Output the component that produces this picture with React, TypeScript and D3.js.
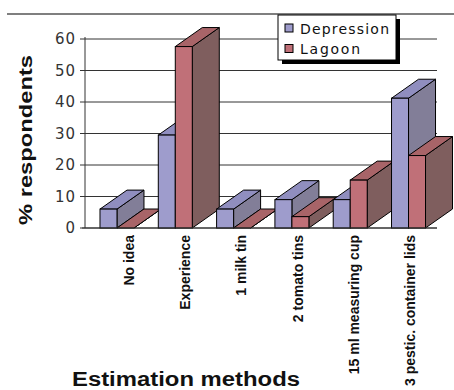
import React from "react";
import * as d3 from "d3";

const categories = ["No idea", "Experience", "1 milk tin", "2 tomato tins", "15 ml measuring cup", "3 pestic. container lids"];
const seriesNames = ["Depression", "Lagoon"];
const depression = [6, 29.5, 6, 9, 9, 41.2];
const lagoon = [0, 57.6, 0, 3.6, 15.2, 23];
const yTicks = [0, 10, 20, 30, 40, 50, 60];

const colors: Record<string, { front: string; top: string; side: string }> = {
  Depression: { front: "#9e9ccc", top: "#908ebf", side: "#827e98" },
  Lagoon: { front: "#c07078", top: "#a86468", side: "#7f5e5e" },
};

const W = 454;
const H = 390;
const DX = 27;
const DY = -19;

export default function App() {
  const y = d3.scaleLinear().domain([0, 60]).range([228, 39]);
  const x = d3
    .scaleBand<string>()
    .domain(categories)
    .range([85, 440.5])
    .paddingInner(0.417)
    .paddingOuter(0.257);
  const xs = d3.scaleBand<string>().domain(seriesNames).range([0, x.bandwidth()]);
  const xl = d3.scalePoint<string>().domain(categories).range([129, 410]);
  const series = [
    { name: "Depression", values: depression },
    { name: "Lagoon", values: lagoon },
  ];

  const bars: React.ReactNode[] = [];
  categories.forEach((c, i) => {
    series.forEach((s) => {
      const x0 = (x(c) ?? 0) + (xs(s.name) ?? 0);
      const x1 = x0 + xs.bandwidth();
      const yt = y(s.values[i]);
      const yb = y(0);
      const col = colors[s.name];
      const top = `${x0},${yt} ${x1},${yt} ${x1 + DX},${yt + DY} ${x0 + DX},${yt + DY}`;
      const side = `${x1},${yt} ${x1 + DX},${yt + DY} ${x1 + DX},${yb + DY} ${x1},${yb}`;
      bars.push(
        <g key={c + s.name}>
          <polygon points={side} fill={col.side} stroke="#000" strokeWidth={1} strokeLinejoin="round" />
          <polygon points={top} fill={col.top} stroke="#000" strokeWidth={1} strokeLinejoin="round" />
          <rect x={x0} y={yt} width={x1 - x0} height={yb - yt} fill={col.front} stroke="#000" strokeWidth={1} />
        </g>
      );
    });
  });

  return (
    <svg width={W} height={H} style={{ position: "absolute", left: 0, top: 0 }}>
      <rect x={0} y={0} width={W} height={H} fill="#fff" />
      <line x1={7} x2={W} y1={14} y2={14} stroke="#555" strokeWidth={1.5} />
      {yTicks.map((t) => (
        <g key={t}>
          <line x1={85} x2={437} y1={y(t)} y2={y(t)} stroke="#333" strokeWidth={1} />
          <line x1={80} x2={85} y1={y(t)} y2={y(t)} stroke="#333" strokeWidth={1} />
          <text
            x={76}
            y={y(t) + 5}
            textAnchor="end"
            fontFamily="DejaVu Sans, Verdana, sans-serif"
            fontSize={15}
            fill="#333"
            letterSpacing={1}
          >
            {t}
          </text>
        </g>
      ))}
      <line x1={85} x2={85} y1={37} y2={228} stroke="#333" strokeWidth={1} />
      {bars}
      <line x1={82} x2={437} y1={228} y2={228} stroke="#333" strokeWidth={1} />
      {categories.map((c) => (
        <text
          key={c}
          transform={`translate(${(xl(c) ?? 0) + 5},235) rotate(-90)`}
          textAnchor="end"
          fontFamily="Liberation Sans, Arial, sans-serif"
          fontWeight="bold"
          fontSize={14}
          fill="#111"
        >
          {c}
        </text>
      ))}
      <text
        transform="translate(32,140) rotate(-90)"
        textAnchor="middle"
        fontFamily="Liberation Sans, Arial, sans-serif"
        fontWeight="bold"
        fontSize={18}
        textLength={170}
        lengthAdjust="spacingAndGlyphs"
        fill="#111"
      >
        % respondents
      </text>
      <text
        x={72}
        y={386}
        fontFamily="Liberation Sans, Arial, sans-serif"
        fontWeight="bold"
        fontSize={20}
        textLength={228}
        lengthAdjust="spacingAndGlyphs"
        fill="#111"
      >
        Estimation methods
      </text>
      <g>
        <rect x={282} y={19} width={118} height={45} fill="#000" />
        <rect x={278} y={15} width={118} height={45} fill="#fff" stroke="#000" strokeWidth={1} />
        {series.map((s, i) => (
          <g key={s.name}>
            <rect
              x={285}
              y={24 + i * 20.5}
              width={8}
              height={8}
              fill={colors[s.name].front}
              stroke="#000"
              strokeWidth={1}
            />
            <text
              x={300}
              y={33.5 + i * 20.5}
              fontFamily="DejaVu Sans, Verdana, sans-serif"
              fontSize={14}
              fill="#111"
              textLength={s.name === "Depression" ? 89 : 60}
              lengthAdjust="spacing"
            >
              {s.name}
            </text>
          </g>
        ))}
      </g>
    </svg>
  );
}
